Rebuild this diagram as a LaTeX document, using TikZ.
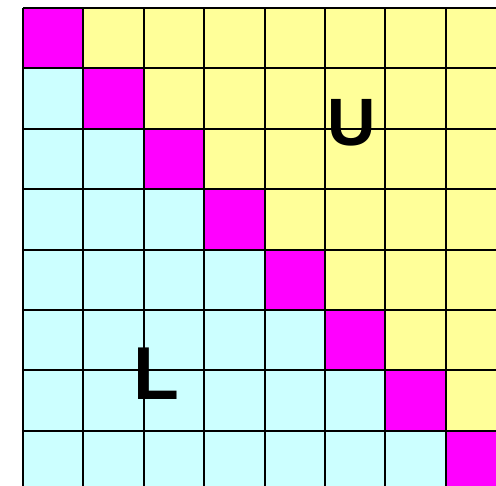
\documentclass[tikz,border=0pt]{standalone}
\usepackage{fontspec}
\setmainfont{Liberation Sans}
\definecolor{diagc}{HTML}{FF00FF}
\definecolor{upperc}{HTML}{FFFF99}
\definecolor{lowerc}{HTML}{CCFFFF}
\tikzset{gridline/.style={line width=2pt,black},
  letter/.style={inner sep=0pt,font=\bfseries\fontsize{#1}{#1}\selectfont}}
\begin{document}
\begin{tikzpicture}[x=1pt,y=-1pt]
\useasboundingbox (0,0) rectangle (496,486);
\clip (0,0) rectangle (496,486);
\fill[white] (0,0) rectangle (496,486);
\foreach \r in {0,...,7}{\foreach \c in {0,...,7}{
  \ifnum\r=\c \def\col{diagc}\else\ifnum\r<\c \def\col{upperc}\else\def\col{lowerc}\fi\fi
  \fill[\col] (23+\c*60.4, 8+\r*60.4) rectangle ++(60.4,60.4);
}}
\foreach \k in {0,...,8}{
  \draw[gridline] (23+\k*60.4, 8) -- (23+\k*60.4, 520);
  \draw[gridline] (23, 8+\k*60.4) -- (520, 8+\k*60.4);
}
\node[letter=67] (U) at (352,123) {U};
\node[letter=75] (L) at (156,374) {L};
\end{tikzpicture}
\end{document}
